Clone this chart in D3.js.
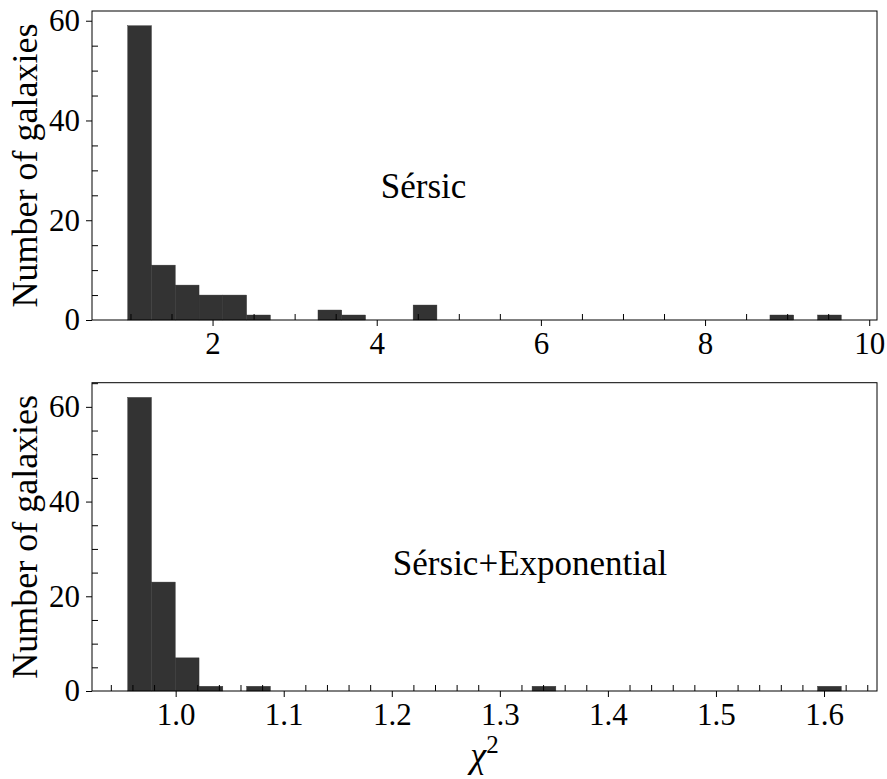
<!DOCTYPE html>
<html>
<head>
<meta charset="utf-8">
<script src="https://cdn.jsdelivr.net/npm/d3@7"></script>
<style>
  body { margin: 0; background: #fff; }
  svg text { font-family: "Liberation Serif", "Times New Roman", serif; fill: #000; }
</style>
</head>
<body>
<div id="chart"></div>
<script>
// chi^2 histograms of the fits — two stacked panels

// ---- Data ----
// 30 equal bins between the min and max chi^2 of each fit
const sersicRange = [0.966, 9.660];
const sersicCounts = [59, 11, 7, 5, 5, 1, 0, 0, 2, 1, 0, 0, 3, 0, 0,
                      0, 0, 0, 0, 0, 0, 0, 0, 0, 0, 0, 0, 1, 0, 1];
const sersicXTicks = [2, 4, 6, 8, 10];
const sersicXMinor = [1, 1.5, 2.5, 3, 3.5, 4.5, 5, 5.5, 6.5, 7, 7.5, 8.5, 9, 9.5];

const expRange = [0.9556, 1.6160];
const expCounts = [62, 23, 7, 1, 0, 1, 0, 0, 0, 0, 0, 0, 0, 0, 0,
                   0, 0, 1, 0, 0, 0, 0, 0, 0, 0, 0, 0, 0, 0, 1];
const expXTicks = [1.0, 1.1, 1.2, 1.3, 1.4, 1.5, 1.6];
const expXMinor = [0.94, 0.96, 0.98, 1.02, 1.04, 1.06, 1.08, 1.12, 1.14, 1.16, 1.18,
                   1.22, 1.24, 1.26, 1.28, 1.32, 1.34, 1.36, 1.38, 1.42, 1.44, 1.46, 1.48,
                   1.52, 1.54, 1.56, 1.58, 1.62, 1.64];

const yTicks = [0, 20, 40, 60];
const yMinor = [5, 10, 15, 25, 30, 35, 45, 50, 55, 65];

const panelLabels = ["Sérsic", "Sérsic+Exponential"];
const labelPos = [[4.05, 24.5], [1.201, 24.5]];

// ---- Layout ----
const W = 887, H = 779;
const svg = d3.select("#chart").append("svg").attr("width", W).attr("height", H);

const BAR = "#333333";
const TICK_FS = 31;

function drawPanel(box, range, counts, xTicks, xMinor, xFmt, label, pos) {
  const nb = counts.length;
  const bw = (range[1] - range[0]) / nb;
  const bins = counts.map((c, i) => ({ x0: range[0] + i * bw, x1: range[0] + (i + 1) * bw, n: c }));

  // matplotlib-style 5% margins
  const span = range[1] - range[0];
  const x = d3.scaleLinear().domain([range[0] - 0.05 * span, range[1] + 0.05 * span])
    .range([box.left, box.right]);
  const y = d3.scaleLinear().domain([0, d3.max(counts) * 1.05])
    .range([box.bottom, box.top]);

  const g = svg.append("g");

  g.selectAll("rect.bar").data(bins.filter(d => d.n > 0)).enter().append("rect")
    .attr("class", "bar")
    .attr("x", d => x(d.x0))
    .attr("y", d => y(d.n))
    .attr("width", d => x(d.x1) - x(d.x0))
    .attr("height", d => y(0) - y(d.n))
    .attr("fill", BAR)
    .attr("stroke", BAR)
    .attr("stroke-width", 0.4);

  // major ticks point out, minor ticks point in
  const xa = g.append("g").attr("transform", `translate(0,${box.bottom})`)
    .call(d3.axisBottom(x).tickValues(xTicks).tickFormat(xFmt).tickSizeInner(6).tickSizeOuter(0).tickPadding(6));
  const xm = g.append("g").attr("transform", `translate(0,${box.bottom})`)
    .call(d3.axisBottom(x).tickValues(xMinor).tickFormat("").tickSizeInner(-6).tickSizeOuter(0));
  const ya = g.append("g").attr("transform", `translate(${box.left},0)`)
    .call(d3.axisLeft(y).tickValues(yTicks).tickFormat(d3.format("d")).tickSizeInner(6).tickSizeOuter(0).tickPadding(6));
  const ym = g.append("g").attr("transform", `translate(${box.left},0)`)
    .call(d3.axisLeft(y).tickValues(yMinor.filter(v => v <= y.domain()[1])).tickFormat("").tickSizeInner(-6).tickSizeOuter(0));

  [xa, xm, ya, ym].forEach(a => {
    a.select(".domain").remove();
    a.selectAll("line").attr("stroke", "#000").attr("stroke-width", 1);
    a.selectAll("text").attr("font-size", TICK_FS).attr("font-family", "Liberation Serif").attr("fill", "#000");
  });

  // frame
  g.append("rect")
    .attr("x", box.left).attr("y", box.top)
    .attr("width", box.right - box.left).attr("height", box.bottom - box.top)
    .attr("fill", "none").attr("stroke", "#000").attr("stroke-width", 1);

  // y label
  g.append("text")
    .attr("transform", `translate(37,${(box.top + box.bottom) / 2}) rotate(-90)`)
    .attr("text-anchor", "middle")
    .attr("font-size", 36)
    .text("Number of galaxies");

  // panel label
  g.append("text")
    .attr("x", x(pos[0])).attr("y", y(pos[1]))
    .attr("font-size", 35)
    .text(label);

  return { x, y };
}

drawPanel({ left: 92, right: 877, top: 11, bottom: 320 },
  sersicRange, sersicCounts, sersicXTicks, sersicXMinor, d3.format("d"), panelLabels[0], labelPos[0]);

drawPanel({ left: 92, right: 877, top: 382.7, bottom: 691 },
  expRange, expCounts, expXTicks, expXMinor, d3.format(".1f"), panelLabels[1], labelPos[1]);

// x label
const xl = svg.append("text")
  .attr("x", 484.5).attr("y", 767)
  .attr("text-anchor", "middle")
  .attr("font-size", 36);
xl.append("tspan").attr("font-style", "italic").text("χ");
xl.append("tspan").attr("font-size", 25).attr("dy", -14).text("2");
</script>
</body>
</html>
